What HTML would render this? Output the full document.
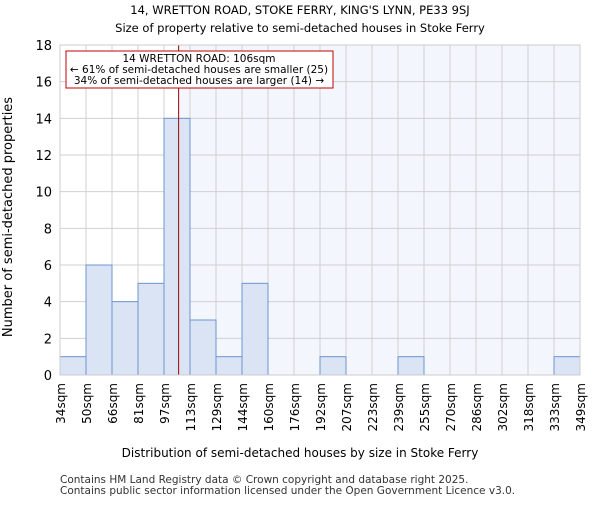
<!DOCTYPE html>
<html><head><meta charset="utf-8"><style>body{margin:0;background:#fff}svg{font-family:"DejaVu Sans","Liberation Sans",sans-serif}</style></head>
<body>
<svg id="c" width="600" height="500" viewBox="0 0 600 500" xmlns="http://www.w3.org/2000/svg">
<text x="300" y="14" font-size="11.5" text-anchor="middle">14, WRETTON ROAD, STOKE FERRY, KING'S LYNN, PE33 9SJ</text>
<text x="300" y="32" font-size="11.5" text-anchor="middle">Size of property relative to semi-detached houses in Stoke Ferry</text>
<g id="plot"></g>
<text x="300" y="457" font-size="12" text-anchor="middle">Distribution of semi-detached houses by size in Stoke Ferry</text>
<text transform="translate(12,217) rotate(-90)" font-size="13" text-anchor="middle">Number of semi-detached properties</text>
<text x="60" y="483" font-size="10.5" fill="#333">Contains HM Land Registry data © Crown copyright and database right 2025.</text>
<text x="60" y="494" font-size="10.5" fill="#333">Contains public sector information licensed under the Open Government Licence v3.0.</text>
</svg>
<script>
const binLabels=["34sqm","50sqm","66sqm","81sqm","97sqm","113sqm","129sqm","144sqm","160sqm","176sqm","192sqm","207sqm","223sqm","239sqm","255sqm","270sqm","286sqm","302sqm","318sqm","333sqm","349sqm"];
const counts=[1,6,4,5,14,3,1,5,0,0,1,0,0,1,0,0,0,0,0,1];
const yTicks=[0,2,4,6,8,10,12,14,16,18];
const propertyBinPos=4.5625;
const X0=60,X1=580,Y0=375,Y1=45,YMAX=18;
const bw=(X1-X0)/counts.length;
const xs=i=>X0+i*bw;
const ys=v=>Y0-(v/YMAX)*(Y0-Y1);
const NS="http://www.w3.org/2000/svg";
const g=document.getElementById('plot');
function mk(t,a){const e=document.createElementNS(NS,t);for(const k in a)e.setAttribute(k,a[k]);g.appendChild(e);return e;}
const px=xs(propertyBinPos);
let e=mk('rect',{x:px,y:Y1,width:X1-px,height:Y0-Y1,fill:'#f3f6fd'});


for(let i=0;i<=counts.length;i++){e=mk('line',{x1:xs(i),x2:xs(i),y1:Y1,y2:Y0,stroke:'#d0d0d0','stroke-width':1});

}
yTicks.forEach(t=>{e=mk('line',{x1:X0,x2:X1,y1:ys(t),y2:ys(t),stroke:'#d0d0d0','stroke-width':1});


e=mk('text',{x:X0-8,y:ys(t)+5,'font-size':13,'text-anchor':'end'});e.textContent=t;

});
counts.forEach((v,i)=>{if(v<=0)return;e=mk('rect',{x:xs(i),y:ys(v),width:bw,height:Y0-ys(v),fill:'#dae4f4',stroke:'#6f94cc','stroke-width':1});

});
binLabels.forEach((l,i)=>{e=mk('text',{transform:`translate(${xs(i)+5},${Y0+8}) rotate(-90)`,'font-size':12,'text-anchor':'end'});e.textContent=l;

});
e=mk('line',{x1:px,x2:px,y1:Y1,y2:Y0,stroke:'#a00000','stroke-width':1});


e=mk('rect',{x:66,y:51,width:267,height:37,fill:'#fff',stroke:'#c00000','stroke-width':1});


["14 WRETTON ROAD: 106sqm","← 61% of semi-detached houses are smaller (25)","34% of semi-detached houses are larger (14) →"].forEach((s,i)=>{e=mk('text',{x:199,y:62+i*11,'font-size':10.5,'text-anchor':'middle'});e.textContent=s;

});
e=mk('rect',{x:X0,y:Y1,width:X1-X0,height:Y0-Y1,fill:'none',stroke:'#cccccc'});


</script>
</body></html>
